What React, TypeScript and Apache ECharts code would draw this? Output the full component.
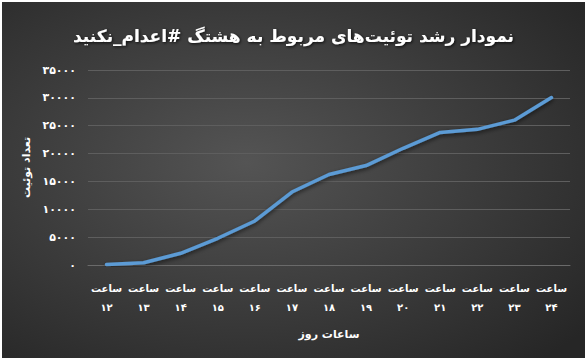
import React, { useEffect, useRef } from "react";
import * as echarts from "echarts";

const titleText = "نمودار رشد توئیت‌های مربوط به هشتگ #اعدام_نکنید";
const hours = ["۱۲", "۱۳", "۱۴", "۱۵", "۱۶", "۱۷", "۱۸", "۱۹", "۲۰", "۲۱", "۲۲", "۲۳", "۲۴"];
const tweetCounts = [100, 400, 2100, 4800, 7900, 13100, 16250, 17850, 20950, 23800, 24350, 26000, 30050];
const xAxisName = "ساعات روز";
const yAxisName = "تعداد توئیت";
const hourPrefix = "ساعت";
const persianDigits = ["۰", "۱", "۲", "۳", "۴", "۵", "۶", "۷", "۸", "۹"];

const toPersian = (n: number) => String(n).replace(/[0-9]/g, (d) => persianDigits[Number(d)]);

const FONT = "'DejaVu Sans', sans-serif";

export default function App() {
  const ref = useRef<HTMLDivElement>(null);
  useEffect(() => {
    if (!ref.current) return;
    const chart = echarts.init(ref.current, undefined, { renderer: "svg" });
    chart.setOption({
      animation: false,
      backgroundColor: {
        type: "radial",
        x: 0.42,
        y: 0.45,
        r: 0.75,
        colorStops: [
          { offset: 0, color: "#545454" },
          { offset: 1, color: "#262626" },
        ],
      },
      title: {
        text: titleText,
        left: "center",
        top: 20,
        textStyle: {
          color: "#ffffff",
          fontFamily: FONT,
          fontSize: 17,
          fontWeight: "bold",
          textShadowColor: "rgba(0,0,0,0.8)",
          textShadowBlur: 3,
          textShadowOffsetX: 1,
          textShadowOffsetY: 1,
        },
      },
      grid: { left: 86, right: 15, top: 68, bottom: 93, containLabel: false },
      xAxis: {
        type: "category",
        data: hours,
        boundaryGap: true,
        name: xAxisName,
        nameLocation: "middle",
        nameGap: 64,
        nameTextStyle: { color: "#ffffff", fontFamily: FONT, fontSize: 11, fontWeight: "bold" },
        axisLine: { lineStyle: { color: "#6a6a6a", width: 1 } },
        axisTick: { show: false },
        axisLabel: {
          interval: 0,
          color: "#ffffff",
          fontFamily: FONT,
          fontSize: 10,
          fontWeight: "bold",
          margin: 14,
          lineHeight: 19,
          formatter: (v: string) => hourPrefix + "\n" + v,
        },
      },
      yAxis: {
        type: "value",
        min: 0,
        max: 35000,
        interval: 5000,
        name: yAxisName,
        nameLocation: "middle",
        nameGap: 52,
        nameRotate: 90,
        nameTextStyle: { color: "#ffffff", fontFamily: FONT, fontSize: 11, fontWeight: "bold" },
        axisLine: { show: false },
        axisTick: { show: false },
        splitLine: { lineStyle: { color: "#5e5e5e", width: 1 } },
        axisLabel: {
          color: "#ffffff",
          fontFamily: FONT,
          fontSize: 11,
          fontWeight: "bold",
          margin: 12,
          formatter: (v: number) => toPersian(v),
        },
      },
      series: [
        {
          type: "line",
          data: tweetCounts,
          symbol: "none",
          lineStyle: {
            color: "#5b9bd5",
            width: 3.5,
            shadowColor: "rgba(0,0,0,0.6)",
            shadowBlur: 4,
            shadowOffsetY: 2,
            cap: "round",
            join: "round",
          },
        },
      ],
    });
    return () => chart.dispose();
  }, []);
  return (
    <div style={{ position: "absolute", left: 0, top: 0, width: 585, height: 358, background: "#ffffff" }}>
      <div ref={ref} style={{ position: "absolute", left: 2, top: 2, width: 583, height: 356 }} />
    </div>
  );
}
